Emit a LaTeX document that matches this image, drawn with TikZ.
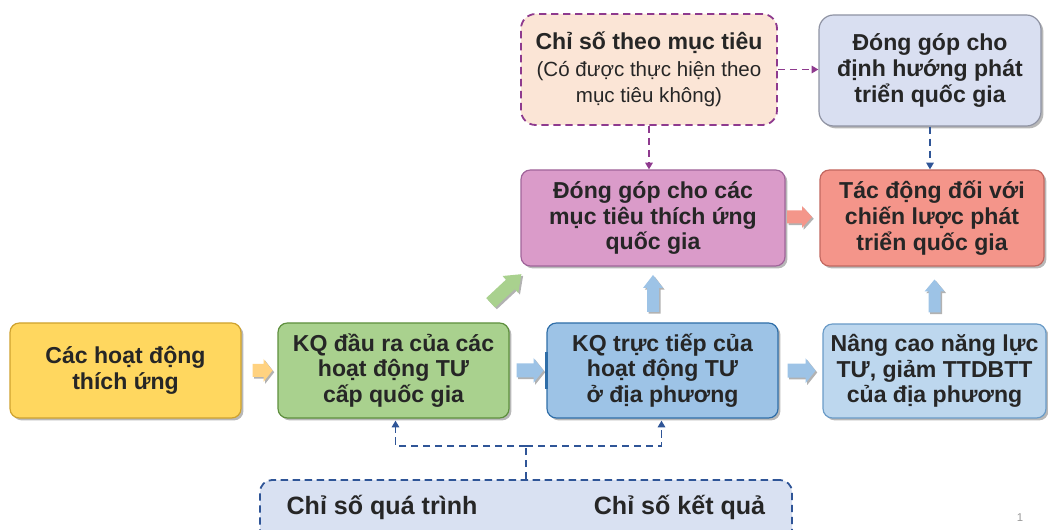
\documentclass[tikz,border=0pt]{standalone}
\usepackage{fontspec}
\setmainfont{Liberation Sans}
\usetikzlibrary{calc,shadows,arrows.meta}

\definecolor{ink}{HTML}{262626}
\definecolor{yelfill}{HTML}{FFD75F}
\definecolor{yeldraw}{HTML}{CFA22E}
\definecolor{grnfill}{HTML}{A9D18E}
\definecolor{grndraw}{HTML}{5E8F3E}
\definecolor{bluefill}{HTML}{9DC3E6}
\definecolor{bluedraw}{HTML}{2F6EA8}
\definecolor{lbluefill}{HTML}{BDD7EE}
\definecolor{lbluedraw}{HTML}{6A9BC7}
\definecolor{pinkfill}{HTML}{DA9BC9}
\definecolor{pinkdraw}{HTML}{A0649A}
\definecolor{salmfill}{HTML}{F4958A}
\definecolor{salmdraw}{HTML}{C2675F}
\definecolor{peachfill}{HTML}{FBE5D6}
\definecolor{purp}{HTML}{8E3A8E}
\definecolor{lavfill}{HTML}{D9DFF1}
\definecolor{lavdraw}{HTML}{8F93A3}
\definecolor{paleblue}{HTML}{D9E1F2}
\definecolor{navy}{HTML}{2F5597}
\definecolor{arryel}{HTML}{FFD280}
\definecolor{arrblue}{HTML}{9DC3E6}
\definecolor{arrsalm}{HTML}{F4968A}
\definecolor{arrgrn}{HTML}{A9D18E}

\tikzset{
  % box placed by its pixel corners: left, top, right, bottom
  spot/.style n args={4}{
    at={({(#1+#3)/2},{(#2+#4)/2})},
    minimum width={(#3-#1)*0.75pt},
    minimum height={(#4-#2)*0.75pt}},
  box/.style={draw, line width=0.9pt, rounded corners=7pt, inner sep=0pt,
    align=center, text=ink,
    font=\fontsize{17.3}{19.2}\selectfont\bfseries},
  boxshadow/.style={drop shadow={shadow xshift=1.8pt, shadow yshift=-1.8pt,
    opacity=0.28, fill=black}},
  dashline/.style={line width=1.35pt, dash pattern=on 5.5pt off 3.5pt},
  tip/.style={-{Triangle[length=5pt,width=5.5pt]}},
  % thick block arrow: length / head length / head width / body width
  pics/fatarrow/.style args={#1/#2/#3/#4}{code={
    \fill[pic actions, drop shadow={shadow xshift=1.3pt, shadow yshift=-1.3pt,
      opacity=0.3, fill=black}]
      ({-#1/2},{-#4/2}) -- ({#1/2-#2},{-#4/2}) -- ({#1/2-#2},{-#3/2})
      -- ({#1/2},0) -- ({#1/2-#2},{#3/2}) -- ({#1/2-#2},{#4/2})
      -- ({-#1/2},{#4/2}) -- cycle;
  }}
}

\begin{document}
\begin{tikzpicture}[x=0.75pt, y=-0.75pt]
\clip (0,0) rectangle (1048,530);

% bottom row
\node[box, boxshadow, fill=yelfill, draw=yeldraw, spot={10}{323}{241}{418}] (A)
  {Các hoạt động\\thích ứng};
\node[box, boxshadow, fill=grnfill, draw=grndraw, spot={278}{323}{509}{418}] (B)
  {KQ đầu ra của các\\hoạt động TƯ\\cấp quốc gia};
\node[box, boxshadow, fill=bluefill, draw=bluedraw, spot={547}{323}{778}{418}] (C)
  {KQ trực tiếp của\\hoạt động TƯ\\ở địa phương};
\node[box, boxshadow, fill=lbluefill, draw=lbluedraw, spot={823}{324}{1046}{418}] (D)
  {Nâng cao năng lực\\TƯ, giảm TTDBTT\\của địa phương};
\draw[bluedraw, line width=2.2pt] ($(C.west)+(0,-18)$) -- ($(C.west)+(0,18)$);

% middle row
\node[box, boxshadow, fill=pinkfill, draw=pinkdraw, spot={521}{170}{785}{266}] (E)
  {Đóng góp cho các\\mục tiêu thích ứng\\quốc gia};
\node[box, boxshadow, fill=salmfill, draw=salmdraw, spot={820}{170}{1044}{266}] (F)
  {Tác động đối với\\chiến lược phát\\triển quốc gia};

% top row
\node[box, fill=peachfill, draw=purp, dashline, rounded corners=11pt,
  spot={521}{14}{777}{125}] (G)
  {Chỉ số theo mục tiêu\\[1pt]
   \mdseries\fontsize{15.4}{19}\selectfont (Có được thực hiện theo\\
   \mdseries\fontsize{15.4}{19}\selectfont mục tiêu không)};
\node[box, boxshadow, fill=lavfill, draw=lavdraw, rounded corners=11pt,
  spot={819}{15}{1041}{126}] (H)
  {Đóng góp cho\\định hướng phát\\triển quốc gia};

% indicator panel
\node[box, fill=paleblue, draw=navy, dashline, rounded corners=9pt,
  spot={260}{480}{792}{560}] (I) {};
\node[text=ink, font=\fontsize{18.8}{22}\selectfont\bfseries] (Ip)
  at (382,507) {Chỉ số quá trình};
\node[text=ink, font=\fontsize{18.8}{22}\selectfont\bfseries] (Ik)
  at (679.5,507) {Chỉ số kết quả};

% block arrows
\pic[fill=arryel] at ($(A.east)!0.5!(B.west)+(3,0)$) {fatarrow=20/9/23/13};
\pic[fill=arrblue] at ($(B.east)!0.5!(C.west)+(2,0)$) {fatarrow=27/10/25/14};
\pic[fill=arrblue] at ($(C.east)!0.5!(D.west)+(1,0)$) {fatarrow=28/10/25/14};
\pic[fill=arrsalm] at ($(E.east)!0.5!(F.west)+(-3,-1)$) {fatarrow=25/10/22/13};
\pic[fill=arrblue, rotate=90] at ($(E.south)!0.5!(E.south|-C.north)+(0,-1)$)
  {fatarrow=37/13/20/12};
\pic[fill=arrblue, rotate=90] at ($(D.north)!0.5!(D.north|-F.south)+(0,1)$)
  {fatarrow=33/12/20/12};
\pic[fill=arrgrn, rotate=43] at ($(B.north east)!0.5!(E.south west)+(-9,-6)$)
  {fatarrow=42/15/23/13};

% dashed indicator links
\draw[dashline, tip, purp] (G.south) -- (G.south|-E.north);
\draw[dashline, tip, purp] (G.east) -- (G.east-|H.west);
\draw[dashline, tip, navy] (H.south) -- (H.south|-F.north);
\coordinate (J) at ($(I.north)+(0,-33)$);
\draw[dashline, navy] (I.north) -- (J);
\draw[dashline, tip, navy] (J) -| ($(B.south)+(2,2)$);
\draw[dashline, tip, navy] (J) -| ($(C.south)+(-1,2)$);

% page number
\node[text=black!40, font=\fontsize{8.5}{8.5}\selectfont] (pg) at (1020,518) {1};
\end{tikzpicture}
\end{document}
